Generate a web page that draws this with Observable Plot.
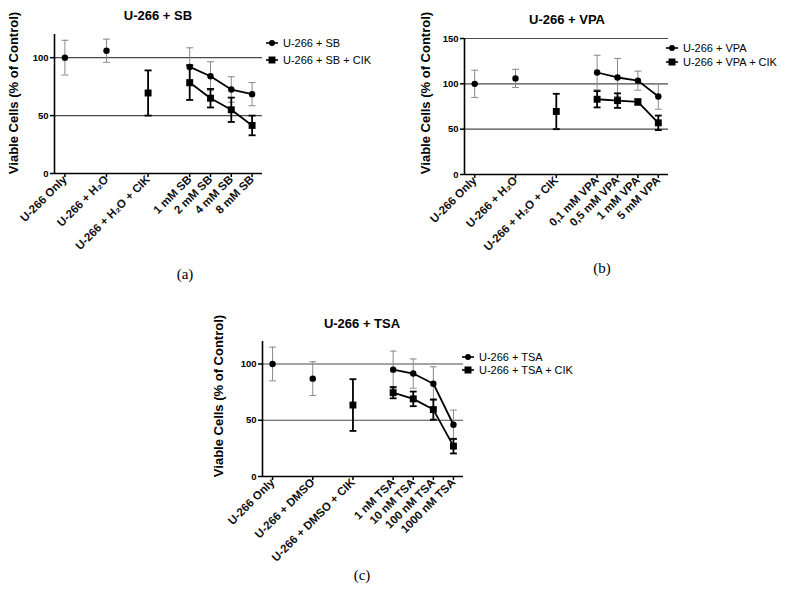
<!DOCTYPE html>
<html><head><meta charset="utf-8">
<script src="https://cdn.jsdelivr.net/npm/d3@7"></script>
<script src="https://cdn.jsdelivr.net/npm/@observablehq/plot@0.6"></script>
<style>
body{margin:0;background:#fff;}
#root{position:relative;width:785px;height:594px;overflow:hidden;font-family:"Liberation Sans",Arial,sans-serif;color:#000;}
.abs{position:absolute;white-space:nowrap;}
.title{font-weight:bold;font-size:13px;transform:translate(-50%,-50%);}
.ylab{font-weight:bold;font-size:13px;transform:translate(-50%,-50%) rotate(-90deg);}
.cap{font-family:"Liberation Serif","Times New Roman",serif;font-size:15px;transform:translate(-50%,-50%);}
.leg{font-size:11px;display:flex;align-items:center;transform:translateY(-50%);}
.leg svg{margin-right:5px;}
</style></head><body><div id="root"></div>
<script>
// ---- categories / tick labels ----
const positions = [0, 2, 4, 6, 7, 8, 9];
const sbLabels = ["U-266 Only", "U-266 + H₂O", "U-266 + H₂O + CIK", "1 mM SB", "2 mM SB", "4 mM SB", "8 mM SB"];
const vpaLabels = ["U-266 Only", "U-266 + H₂O", "U-266 + H₂O + CIK", "0,1 mM VPA", "0,5 mM VPA", "1 mM VPA", "5 mM VPA"];
const tsaLabels = ["U-266 Only", "U-266 + DMSO", "U-266 + DMSO + CIK", "1 nM TSA", "10 nM TSA", "100 nM TSA", "1000 nM TSA"];

// ---- panel (a) SB ----
const sbCtrlMean = [100, 106, 69.5];
const sbCtrlErr = [15, 10, 19.5];
const sbMean = [92, 84, 72.5, 68.5];
const sbErr = [16.5, 12.5, 11, 10];
const sbCikMean = [78.5, 65, 55, 41.5];
const sbCikErr = [15, 8, 10.5, 8.5];

// ---- panel (b) VPA ----
const vpaCtrlMean = [100, 106, 69.5];
const vpaCtrlErr = [15, 10, 19.5];
const vpaMean = [112.5, 107, 103.5, 86];
const vpaErr = [19, 21, 10.5, 14];
const vpaCikMean = [83, 81.5, 80, 57];
const vpaCikErr = [9, 8, 3, 8];

// ---- panel (c) TSA ----
const tsaCtrlMean = [100, 87, 63.5];
const tsaCtrlErr = [15, 15, 23];
const tsaMean = [95, 91.5, 82.5, 46];
const tsaErr = [16.5, 13, 15, 13];
const tsaCikMean = [74.5, 69, 59.5, 27];
const tsaCikErr = [5, 6.5, 9, 6.5];

const root = document.getElementById("root");
function add(cls, text, x, y) {
  const d = document.createElement("div");
  d.className = "abs " + cls;
  d.style.left = x + "px"; d.style.top = y + "px";
  d.textContent = text;
  root.appendChild(d);
  return d;
}
function legendItem(text, sym, x, y) {
  const d = document.createElement("div");
  d.className = "abs leg";
  d.style.left = x + "px"; d.style.top = y + "px";
  const s = sym === "circle"
    ? '<circle cx="6" cy="5" r="3" fill="#000"/>'
    : '<rect x="2.5" y="1.5" width="7" height="7" fill="#000"/>';
  d.innerHTML = '<svg width="12" height="10"><line x1="0" y1="5" x2="12" y2="5" stroke="#000" stroke-width="1.6"/>' + s + '</svg><span>' + text + '</span>';
  root.appendChild(d);
}

function panel(o) {
  const ctrl = o.ctrlMean.map((m, i) => ({x: positions[i], y: m, e: o.ctrlErr[i], cik: i === 2}));
  const drug = o.mean.map((m, i) => ({x: positions[i + 3], y: m, e: o.err[i]}));
  const drugC = o.cikMean.map((m, i) => ({x: positions[i + 3], y: m, e: o.cikErr[i]}));
  const gray = [...ctrl.filter(d => !d.cik), ...drug];
  const black = [...ctrl.filter(d => d.cik), ...drugC];
  const cap = 0.17;
  const caps = (arr) => arr.flatMap(d => [{x: d.x, y: d.y + d.e}, {x: d.x, y: d.y - d.e}]);
  const p = Plot.plot({
    width: o.w, height: o.h,
    marginLeft: o.ml, marginRight: o.mr, marginTop: o.mt, marginBottom: o.mb,
    style: {fontFamily: "Liberation Sans, Arial, sans-serif", background: "transparent", overflow: "visible", color: "#000"},
    x: {domain: [-0.5, 9.5], axis: null},
    y: {domain: [0, o.yMax], axis: null},
    marks: [
      Plot.ruleY(o.grid, {stroke: "#4a4a4a", strokeWidth: 1.2}),
      Plot.axisY({ticks: o.yTicks, tickSize: 4, tickPadding: 2, fontSize: 9.5, fontWeight: "bold", label: null, strokeWidth: 1.5, fill: "#000"}),
      Plot.axisX({ticks: positions, tickFormat: d => o.labels[positions.indexOf(d)], tickRotate: -45, tickSize: 4, tickPadding: 0, fontSize: 11.5, fontWeight: "bold", label: null, strokeWidth: 1.5, fill: "#111"}),
      Plot.ruleX([-0.5], {stroke: "#000", strokeWidth: 1.6}),
      Plot.ruleY([0], {stroke: "#000", strokeWidth: 1.6}),
      Plot.ruleX(gray, {x: "x", y1: d => d.y - d.e, y2: d => d.y + d.e, stroke: "#8a8a8a", strokeWidth: 1}),
      Plot.link(caps(gray), {x1: d => d.x - cap, x2: d => d.x + cap, y1: "y", y2: "y", stroke: "#8a8a8a", strokeWidth: 1}),
      Plot.line(drug, {x: "x", y: "y", stroke: "#000", strokeWidth: 1.8}),
      Plot.line(drugC, {x: "x", y: "y", stroke: "#000", strokeWidth: 1.8}),
      Plot.ruleX(black, {x: "x", y1: d => d.y - d.e, y2: d => d.y + d.e, stroke: "#000", strokeWidth: 1.8}),
      Plot.link(caps(black), {x1: d => d.x - cap, x2: d => d.x + cap, y1: "y", y2: "y", stroke: "#000", strokeWidth: 1.8}),
      Plot.dot(gray, {x: "x", y: "y", r: 3.2, fill: "#000", symbol: "circle"}),
      Plot.dot(black, {x: "x", y: "y", r: 3.9, fill: "#000", symbol: "square"})
    ]
  });
  p.style.position = "absolute";
  p.style.left = o.left + "px";
  p.style.top = o.top + "px";
  root.appendChild(p);
}

panel({labels: sbLabels, ctrlMean: sbCtrlMean, ctrlErr: sbCtrlErr, mean: sbMean, err: sbErr, cikMean: sbCikMean, cikErr: sbCikErr,
  yMax: 120, grid: [50, 100], yTicks: [0, 50, 100],
  left: 0, top: 0, w: 390, h: 290, ml: 54, mr: 128, mt: 34, mb: 117});
panel({labels: vpaLabels, ctrlMean: vpaCtrlMean, ctrlErr: vpaCtrlErr, mean: vpaMean, err: vpaErr, cikMean: vpaCikMean, cikErr: vpaCikErr,
  yMax: 150, grid: [50, 100, 150], yTicks: [0, 50, 100, 150],
  left: 390, top: 0, w: 395, h: 290, ml: 74, mr: 117, mt: 38, mb: 116});
panel({labels: tsaLabels, ctrlMean: tsaCtrlMean, ctrlErr: tsaCtrlErr, mean: tsaMean, err: tsaErr, cikMean: tsaCikMean, cikErr: tsaCikErr,
  yMax: 120, grid: [50, 100], yTicks: [0, 50, 100],
  left: 200, top: 290, w: 400, h: 304, ml: 62, mr: 137, mt: 51, mb: 118});

// titles
add("title", "U-266 + SB", 158, 15);
add("title", "U-266 + VPA", 567, 19);
add("title", "U-266 + TSA", 362, 323);
// y labels
add("ylab", "Viable Cells (% of Control)", 13, 93);
add("ylab", "Viable Cells (% of Control)", 425, 93);
add("ylab", "Viable Cells (% of Control)", 218, 396);
// legends
legendItem("U-266 + SB", "circle", 266, 43);
legendItem("U-266 + SB + CIK", "square", 266, 60);
legendItem("U-266 + VPA", "circle", 666, 48);
legendItem("U-266 + VPA + CIK", "square", 666, 62);
legendItem("U-266 + TSA", "circle", 462, 357);
legendItem("U-266 + TSA + CIK", "square", 462, 370);
// captions
add("cap", "(a)", 185, 274);
add("cap", "(b)", 602, 268);
add("cap", "(c)", 362, 575);
</script></body></html>
